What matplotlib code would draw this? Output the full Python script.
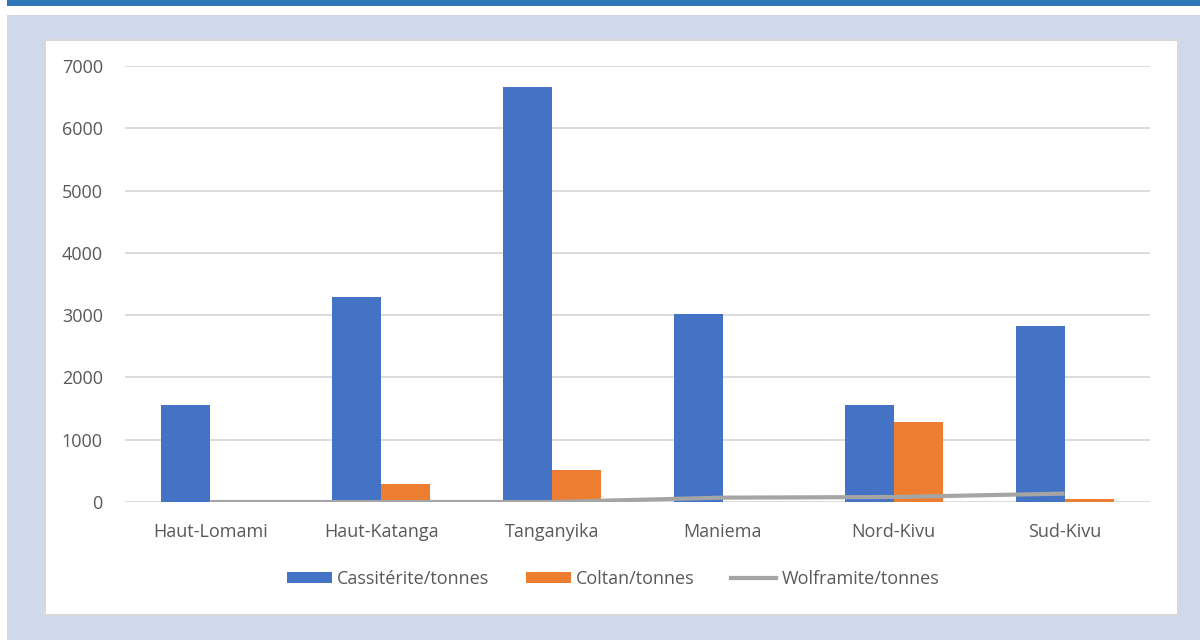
import numpy as np
import matplotlib.pyplot as plt
from matplotlib.patches import Rectangle, Patch
from matplotlib.lines import Line2D

plt.rcParams['font.family'] = ['Open Sans', 'DejaVu Sans']

provinces = ["Haut-Lomami", "Haut-Katanga", "Tanganyika", "Maniema", "Nord-Kivu", "Sud-Kivu"]
cassiterite = [1560, 3290, 6660, 3020, 1560, 2820]
coltan = [0, 290, 510, 0, 1280, 50]
wolframite = [0, 0, 0, 70, 80, 135]

blue = "#4472c4"
orange = "#ed7d31"
grey = "#a5a5a5"
text_col = "#595959"

fig = plt.figure(figsize=(12, 6.4), dpi=100)
W, H = 1200, 640

def px_rect(x0, y0, x1, y1, **kw):
    # rectangle given in pixel coords measured from the top-left corner
    r = Rectangle((x0 / W, 1 - y1 / H), (x1 - x0) / W, (y1 - y0) / H,
                  transform=fig.transFigure, **kw)
    fig.patches.append(r)

# header strip, panel background and white chart box
px_rect(7, 0, 1200, 6, facecolor="#2e74b9", edgecolor="none", zorder=0)
px_rect(7, 15, 1200, 640, facecolor="#d0d9ec", edgecolor="none", zorder=0)
px_rect(45, 40, 1178, 615, facecolor="white", edgecolor="#d9d9d9", linewidth=1.5, zorder=1)

ax = fig.add_axes([125 / W, 1 - 502 / H, (1150 - 125) / W, (502 - 66) / H])
ax.set_zorder(5)
ax.set_facecolor("none")

x = np.arange(len(provinces))
bw = 0.287
ax.bar(x - bw / 2, cassiterite, bw, color=blue, zorder=2)
ax.bar(x + bw / 2, coltan, bw, color=orange, zorder=2)
ax.plot(x, wolframite, color=grey, linewidth=3, zorder=3, solid_capstyle="butt")

ax.set_xlim(-0.5, len(provinces) - 0.5)
ax.set_ylim(0, 7000)
ax.set_yticks(np.arange(0, 7001, 1000))
ax.set_xticks(x)
ax.set_xticklabels(provinces)
ax.yaxis.grid(True, color="#d9d9d9", linewidth=1.3)
ax.set_axisbelow(True)
for s in ax.spines.values():
    s.set_visible(False)
ax.tick_params(axis="both", length=0, colors=text_col, labelsize=13)
ax.tick_params(axis="y", pad=16)
ax.tick_params(axis="x", pad=15)

handles = [
    Patch(facecolor=blue, label="Cassitérite/tonnes"),
    Patch(facecolor=orange, label="Coltan/tonnes"),
    Line2D([0], [0], color=grey, linewidth=3, label="Wolframite/tonnes"),
]
leg = fig.legend(handles=handles, loc="center", bbox_to_anchor=(613 / W, 1 - 579 / H),
                 ncol=3, frameon=False, fontsize=13, handlelength=2.5,
                 handleheight=0.6, handletextpad=0.3, columnspacing=2.0)
leg.set_zorder(6)
for t in leg.get_texts():
    t.set_color(text_col)

fig.savefig("out.png", dpi=100)
